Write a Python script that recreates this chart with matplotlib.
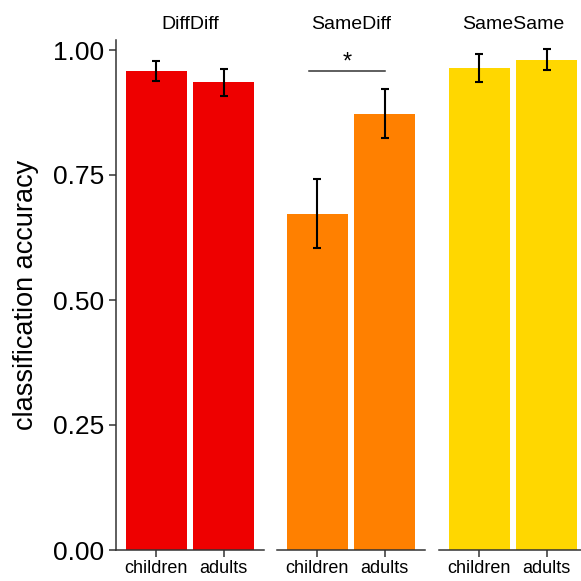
import matplotlib
matplotlib.use("Agg")
import matplotlib.pyplot as plt
import numpy as np

plt.rcParams["font.family"] = ["Liberation Sans", "DejaVu Sans"]

# data
conditions = ["DiffDiff", "SameDiff", "SameSame"]
ages = ["children", "adults"]
accuracy = [[0.958, 0.936], [0.673, 0.872], [0.964, 0.981]]
ci_low = [[0.938, 0.909], [0.605, 0.824], [0.937, 0.961]]
ci_high = [[0.979, 0.962], [0.742, 0.922], [0.993, 1.002]]
colors = ["#EE0000", "#FF8000", "#FFD700"]
y_ticks = [0.00, 0.25, 0.50, 0.75, 1.00]

W = H = 581
fig = plt.figure(figsize=(W / 100, H / 100), dpi=100)

lefts = [116, 277, 439]
pw = 148
top, bottom = 40, 550
axes = []
for i, cond in enumerate(conditions):
    ax = fig.add_axes([lefts[i] / W, (H - bottom) / H, pw / W, (bottom - top) / H])
    x = np.arange(1, len(ages) + 1)
    ax.bar(x, accuracy[i], width=0.9, color=colors[i], zorder=1)
    lo = np.array(accuracy[i]) - np.array(ci_low[i])
    hi = np.array(ci_high[i]) - np.array(accuracy[i])
    ax.errorbar(x, accuracy[i], yerr=[lo, hi], fmt="none", ecolor="black",
                elinewidth=1.5, capsize=3, capthick=1.5, zorder=3)
    ax.set_xlim(0.4, 2.6)
    ax.set_ylim(0, 1.02)
    ax.set_xticks(x)
    ax.set_xticklabels(ages, fontsize=13)
    ax.set_title(cond, fontsize=14, pad=8)
    for s in ["top", "right"]:
        ax.spines[s].set_visible(False)
    for s in ["left", "bottom"]:
        ax.spines[s].set_color("#333333")
        ax.spines[s].set_linewidth(1.1)
    ax.tick_params(axis="both", colors="#333333", length=5, width=1.1,
                   labelcolor="black")
    ax.tick_params(axis="x", pad=2)
    if i == 0:
        ax.set_yticks(y_ticks)
        ax.set_yticklabels([f"{v:.2f}" for v in y_ticks], fontsize=19)
        ax.set_ylabel("classification accuracy", fontsize=19.5, labelpad=10)
    else:
        ax.spines["left"].set_visible(False)
        ax.set_yticks([])
    axes.append(ax)

# significance marker on SameDiff
ax = axes[1]
ax.plot([0.88, 2.01], [0.959, 0.959], color="#333333", linewidth=1.1)
ax.text(1.45, 0.952, "*", ha="center", va="bottom", fontsize=17)

fig.savefig("out.png", dpi=100)
